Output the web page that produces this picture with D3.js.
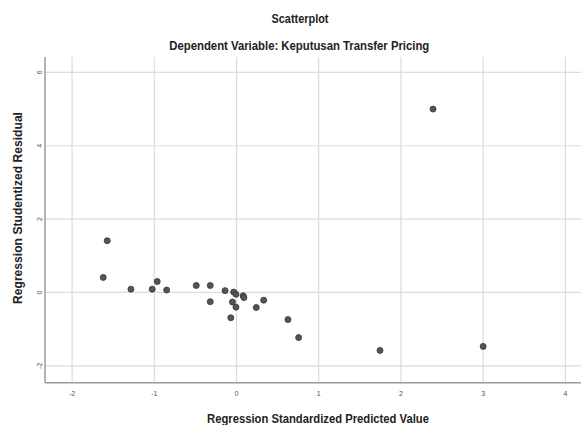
<!DOCTYPE html>
<html>
<head>
<meta charset="utf-8">
<script src="https://cdn.jsdelivr.net/npm/d3@7"></script>
<style>
  body { margin: 0; background: #fff; }
  svg { display: block; font-family: "Liberation Sans", Arial, sans-serif; }
</style>
</head>
<body>
<svg id="chart" width="581" height="425"></svg>
<script>
// standardized predicted value vs studentized residual
const predicted = [-1.573, -1.622, -1.285, -1.026, -0.965, -0.850, -0.49, -0.32, -0.32, -0.14,
                   -0.035, -0.007, 0.08, 0.09, -0.05, -0.007, -0.07, 0.24, 0.33, 0.625,
                   0.755, 1.745, 2.39, 3.0];
const residual = [1.41, 0.41, 0.09, 0.09, 0.30, 0.065, 0.19, 0.19, -0.25, 0.05,
                  0.01, -0.05, -0.09, -0.14, -0.26, -0.40, -0.69, -0.41, -0.21, -0.74,
                  -1.23, -1.58, 5.0, -1.47];
const x_ticks = [-2, -1, 0, 1, 2, 3, 4];
const y_ticks = [-2, 0, 2, 4, 6];

const svg = d3.select("#chart");
const plot_left = 45, plot_right = 581, plot_top = 57, plot_bottom = 382.7;

const x = d3.scaleLinear().domain([-2.33, 4.19]).range([plot_left, plot_right]);
const y = d3.scaleLinear().domain([-2.46, 6.42]).range([plot_bottom, plot_top]);

// grid lines
svg.append("g")
    .selectAll("line")
    .data(x_ticks)
    .join("line")
    .attr("x1", d => x(d)).attr("x2", d => x(d))
    .attr("y1", plot_top).attr("y2", plot_bottom)
    .attr("stroke", "#dcdcdc").attr("stroke-width", 1.2);

svg.append("g")
    .selectAll("line")
    .data(y_ticks)
    .join("line")
    .attr("x1", plot_left).attr("x2", plot_right)
    .attr("y1", d => y(d)).attr("y2", d => y(d))
    .attr("stroke", "#dcdcdc").attr("stroke-width", 1.2);

// axis lines
svg.append("line")
    .attr("x1", plot_left).attr("x2", plot_left).attr("y1", plot_top).attr("y2", plot_bottom)
    .attr("stroke", "#9a9a9a").attr("stroke-width", 1.5);
svg.append("line")
    .attr("x1", plot_left).attr("x2", plot_right).attr("y1", plot_bottom).attr("y2", plot_bottom)
    .attr("stroke", "#9a9a9a").attr("stroke-width", 1.5);

// tick labels
svg.append("g")
    .selectAll("text")
    .data(x_ticks)
    .join("text")
    .attr("x", d => x(d))
    .attr("y", 393.5)
    .attr("text-anchor", "middle")
    .attr("dominant-baseline", "central")
    .attr("font-size", 7)
    .attr("fill", "#555")
    .text(d => d);

svg.append("g")
    .selectAll("text")
    .data(y_ticks)
    .join("text")
    .attr("transform", d => `translate(39.3,${y(d)}) rotate(-90)`)
    .attr("text-anchor", "middle")
    .attr("dominant-baseline", "central")
    .attr("font-size", 7)
    .attr("fill", "#555")
    .text(d => d);

// points
svg.append("g")
    .selectAll("circle")
    .data(predicted.map((p, i) => [p, residual[i]]))
    .join("circle")
    .attr("cx", d => x(d[0]))
    .attr("cy", d => y(d[1]))
    .attr("r", 3)
    .attr("fill", "#555")
    .attr("stroke", "#333")
    .attr("stroke-width", 0.8);

// titles
svg.append("text")
    .attr("x", 300).attr("y", 18.5)
    .attr("text-anchor", "middle").attr("dominant-baseline", "central")
    .attr("font-size", 12).attr("font-weight", "bold").attr("fill", "#222")
    .attr("textLength", 57).attr("lengthAdjust", "spacingAndGlyphs")
    .text("Scatterplot");

svg.append("text")
    .attr("x", 299.3).attr("y", 45.7)
    .attr("text-anchor", "middle").attr("dominant-baseline", "central")
    .attr("font-size", 12).attr("font-weight", "bold").attr("fill", "#222")
    .attr("textLength", 260).attr("lengthAdjust", "spacingAndGlyphs")
    .text("Dependent Variable: Keputusan Transfer Pricing");

svg.append("text")
    .attr("x", 318).attr("y", 419)
    .attr("text-anchor", "middle").attr("dominant-baseline", "central")
    .attr("font-size", 12).attr("font-weight", "bold").attr("fill", "#222")
    .attr("textLength", 222).attr("lengthAdjust", "spacingAndGlyphs")
    .text("Regression Standardized Predicted Value");

svg.append("text")
    .attr("transform", "translate(17.5,208) rotate(-90)")
    .attr("text-anchor", "middle").attr("dominant-baseline", "central")
    .attr("font-size", 12).attr("font-weight", "bold").attr("fill", "#222")
    .attr("textLength", 192).attr("lengthAdjust", "spacingAndGlyphs")
    .text("Regression Studentized Residual");
</script>
</body>
</html>
